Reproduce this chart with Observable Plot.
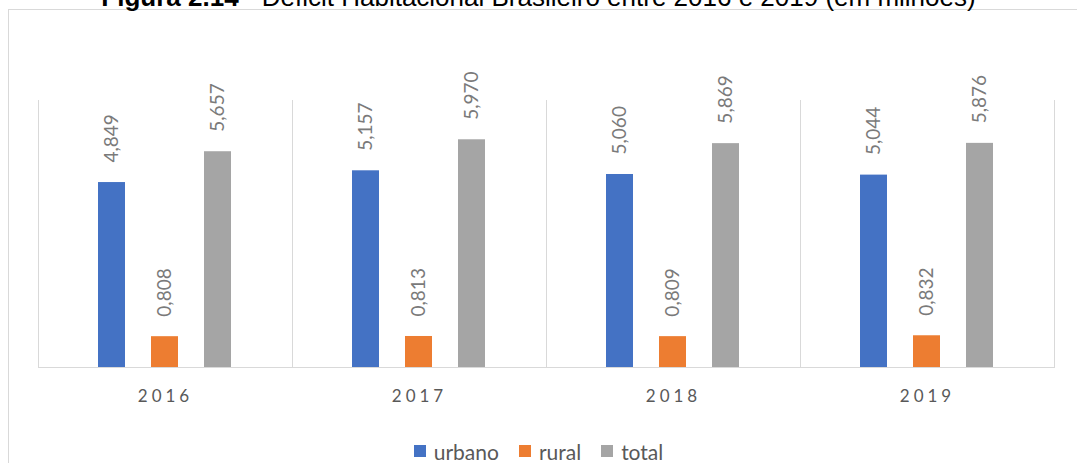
<!DOCTYPE html>
<html><head><meta charset="utf-8">
<script src="https://cdn.jsdelivr.net/npm/d3@7"></script>
<script src="https://cdn.jsdelivr.net/npm/@observablehq/plot@0.6"></script>
<style>
body{margin:0;background:#fff;}
#wrap{position:relative;width:1077px;height:463px;overflow:hidden;background:#fff;}
#title{position:absolute;left:0;width:1077px;top:-16px;text-align:center;font-family:"Liberation Sans",Arial,sans-serif;font-size:26px;line-height:26px;color:#000;white-space:nowrap;}
#frame{position:absolute;left:8px;top:9px;width:1200px;height:600px;border:1px solid #d9d9d9;}
#chart{position:absolute;left:0;top:0;}
#chart g[aria-label^="fx-axis"] text{letter-spacing:4px;}
#legend{position:absolute;left:0;width:1077px;top:439px;height:24px;display:flex;justify-content:center;align-items:center;font-family:Lato,sans-serif;font-size:21px;color:#595959;}
.item{display:flex;align-items:center;margin:0 10px;}
.sw{width:12px;height:12px;margin-right:8px;}
</style></head>
<body>
<div id="wrap">
  <div id="frame"></div>
  <div id="title"><b>Figura 2.14</b> - Déficit Habitacional Brasileiro entre 2016 e 2019 (em milhões)</div>
  <div id="chart"></div>
  <div id="legend"></div>
</div>
<script>
const years = ["2016", "2017", "2018", "2019"];
const series = ["urbano", "rural", "total"];
const urbano = [4.849, 5.157, 5.060, 5.044];
const rural = [0.808, 0.813, 0.809, 0.832];
const total = [5.657, 5.970, 5.869, 5.876];
const colors = ["#4472C4", "#ED7D31", "#A5A5A5"];

const values = {urbano, rural, total};
const data = [];
years.forEach((y, i) => series.forEach(s => data.push({year: y, series: s, value: values[s][i]})));
const fmt = v => d3.format(".3f")(v).replace(".", ",");

const chart = Plot.plot({
  width: 1077, height: 420,
  marginLeft: 37, marginRight: 23, marginTop: 100, marginBottom: 53,
  fx: {domain: years, padding: 0, label: null, axis: "bottom", tickSize: 0, tickPadding: 22},
  x: {domain: series, paddingInner: 0.49, paddingOuter: 1.14, axis: null},
  y: {domain: [0, 7], axis: null},
  color: {domain: series, range: colors},
  style: {fontFamily: "Lato, sans-serif", fontSize: "17px", color: "#595959", background: "transparent"},
  marks: [
    Plot.frame({anchor: "left", stroke: "#d9d9d9"}),
    Plot.frame({anchor: "right", stroke: "#d9d9d9"}),
    Plot.ruleY([0], {stroke: "#d9d9d9"}),
    Plot.barY(data, {fx: "year", x: "series", y: "value", fill: "series"}),
    Plot.text(data, {fx: "year", x: "series", y: "value", text: d => fmt(d.value), rotate: -90, textAnchor: "start", dy: -20, fill: "#7a7a7a", fontSize: 19})
  ]
});
document.getElementById("chart").appendChild(chart);

const legend = document.getElementById("legend");
series.forEach((s, i) => {
  const it = document.createElement("div");
  it.className = "item";
  it.innerHTML = `<div class="sw" style="background:${colors[i]}"></div><span>${s}</span>`;
  legend.appendChild(it);
});
</script>
</body></html>
